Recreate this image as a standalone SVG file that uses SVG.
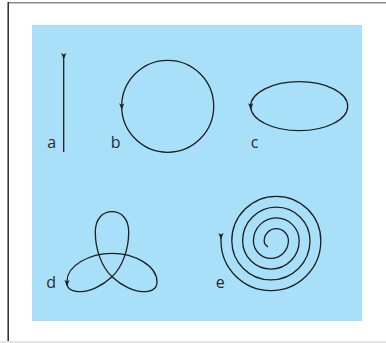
<svg xmlns="http://www.w3.org/2000/svg" width="386" height="343" viewBox="0 0 386 343">
<defs>
<style>
.crv{fill:none;stroke:#1e1e1e;stroke-width:1.3;marker-start:url(#arr)}
.lbl{font-family:"Open Sans","Noto Sans","DejaVu Sans",sans-serif;font-size:16px;fill:#2a2a2a}
</style>
<marker id="arr" markerUnits="userSpaceOnUse" markerWidth="10" markerHeight="10" refX="3" refY="3" orient="auto" overflow="visible">
<path d="M0,0.4 L6.5,3 L0,5.6 L1.6,3 Z" fill="#1e1e1e"/>
</marker>
</defs>
<rect x="0" y="0" width="386" height="343" fill="#ffffff"/>
<rect x="0" y="341" width="386" height="2" fill="#e4e4e4"/>
<line x1="8" y1="2.7" x2="386" y2="2.7" stroke="#8a8a8a" stroke-width="1.4"/>
<line x1="8.2" y1="2" x2="8.2" y2="341" stroke="#2a2a2a" stroke-width="1.5"/>
<rect id="panel" x="32" y="25" width="330" height="296" fill="#a9e0f9"/>
<g id="a">
<path class="crv" d="M63.7,56 L63.7,152"/>
<text class="lbl" x="47.3" y="148">a</text>
</g>
<g id="b">
<path class="crv" d="M121.7,106.3 A46,46 0 1,0 213.7,106.3 A46,46 0 1,0 121.7,106.3"/>
<text class="lbl" x="110.7" y="148">b</text>
</g>
<g id="c">
<path class="crv" d="M250.7,106.2 A48.5,24.5 0 1,0 347.7,106.2 A48.5,24.5 0 1,0 250.7,106.2"/>
<text class="lbl" x="250.7" y="147.5">c</text>
</g>
<g id="d">
<path class="crv" d="M67,283 C67,289.5 73,291.7 81,291.7 C90,291.7 102,286 112,276.7 C122,267.4 128.7,250 128.7,232 C128.7,219 121.5,211.7 112,211.7 C102.5,211.7 95.3,219 95.3,232 C95.3,250 102,267.4 112,276.7 C122,286 134,291.7 143,291.7 C151,291.7 157,289 157,282 C157,266 135,253.3 112,253.3 C89,253.3 67,266 67,281 L67,283"/>
<text class="lbl" x="46.3" y="287.7">d</text>
</g>
<g id="e">
<path class="crv" d="M221,236 L221,240.8 A49.9,49.9 0 0,0 320.8,240.8 A44.5,44.5 0 0,0 231.8,240.8 A39.1,39.1 0 0,0 310,240.8 A33.7,33.7 0 0,0 242.6,240.8 A28.3,28.3 0 0,0 299.2,240.8 A22.9,22.9 0 0,0 253.4,240.8 A17.5,17.5 0 0,0 288.4,240.8 A12.1,12.1 0 0,0 264.2,240.8 A6.7,6.7 0 0,0 268.1,246.9"/>
<text class="lbl" x="215.7" y="287.7">e</text>
</g>
</svg>
